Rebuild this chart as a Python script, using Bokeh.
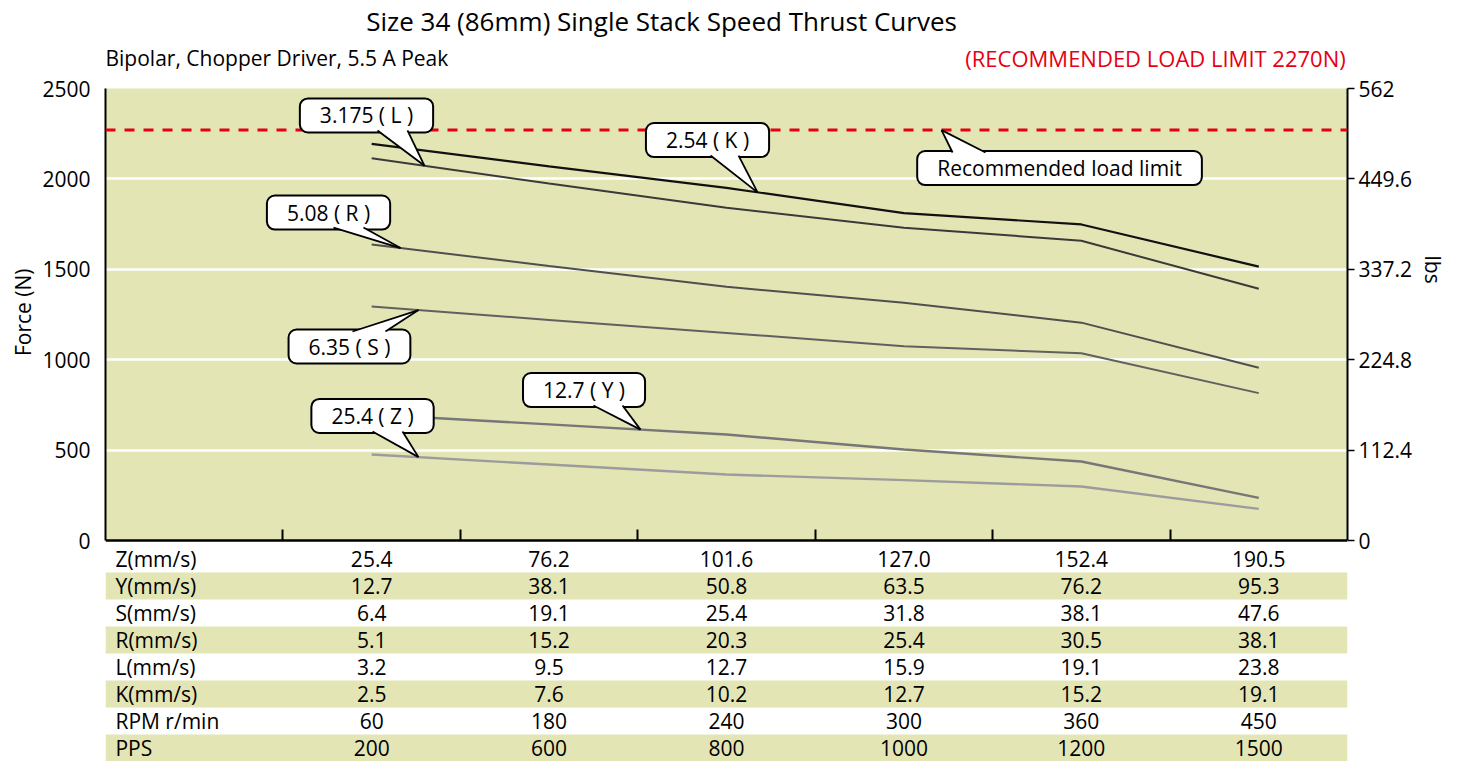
import numpy as np
from bokeh.plotting import figure
from bokeh.models import (Range1d, LinearAxis, FixedTicker, Label, Span, Title,
                          NumeralTickFormatter, ColumnDataSource)
from bokeh.core.properties import value
from bokeh.embed import file_html
from bokeh.resources import INLINE

# ---------------- data ----------------
row_labels = ["Z(mm/s)", "Y(mm/s)", "S(mm/s)", "R(mm/s)", "L(mm/s)", "K(mm/s)", "RPM r/min", "PPS"]
z_speed = ["25.4", "76.2", "101.6", "127.0", "152.4", "190.5"]
y_speed = ["12.7", "38.1", "50.8", "63.5", "76.2", "95.3"]
s_speed = ["6.4", "19.1", "25.4", "31.8", "38.1", "47.6"]
r_speed = ["5.1", "15.2", "20.3", "25.4", "30.5", "38.1"]
l_speed = ["3.2", "9.5", "12.7", "15.9", "19.1", "23.8"]
k_speed = ["2.5", "7.6", "10.2", "12.7", "15.2", "19.1"]
rpm = ["60", "180", "240", "300", "360", "450"]
pps = ["200", "600", "800", "1000", "1200", "1500"]
table_rows = [z_speed, y_speed, s_speed, r_speed, l_speed, k_speed, rpm, pps]

force_K = [2194, 2069, 1950, 1811, 1748, 1515]
force_L = [2114, 1974, 1840, 1730, 1658, 1392]
force_R = [1637, 1518, 1403, 1315, 1205, 955]
force_S = [1294, 1220, 1148, 1074, 1036, 815]
force_Y = [697, 642, 586, 503, 437, 236]
force_Z = [476, 420, 365, 334, 299, 175]

left_ticks = [0, 500, 1000, 1500, 2000, 2500]
grid_ticks = [500, 1000, 1500, 2000]
right_ticks = [0, 112.4, 224.8, 337.2, 449.6, 562]
load_limit = 2270

# ---------------- layout constants ----------------
FONT = "Open Sans"
OLIVE = "#e3e5b5"
FIG_H = 761
FRAME_W = 1242
CHART_TOP = 88      # px of 2500 N
CHART_BOT = 540     # px of 0 N
N_PER_PX = 2500 / (CHART_BOT - CHART_TOP)
y_start = -(FIG_H - CHART_BOT) * N_PER_PX
y_end = 2500 + CHART_TOP * N_PER_PX
LBS = 562 / 2500

ROW_TOP = 545       # px where table begins
ROW_H = (FIG_H - ROW_TOP) / 8
t_start = 8
t_end = -ROW_TOP / ROW_H

n_cols = len(z_speed)
col_x = np.arange(n_cols) + 1.5

p = figure(x_range=Range1d(0, 7), y_range=Range1d(y_start, y_end),
           frame_width=FRAME_W, frame_height=FIG_H,
           min_border_left=105, min_border_right=98, min_border_top=0, min_border_bottom=0,
           output_backend="svg", toolbar_location=None, tools="")
p.outline_line_color = None
p.background_fill_color = "white"
p.border_fill_color = "white"
p.extra_y_ranges = {"lbs": Range1d(y_start * LBS, y_end * LBS),
                    "table": Range1d(t_start, t_end)}

# chart background
bg = p.quad(left=[0], right=[7], bottom=[0], top=[2500], fill_color=OLIVE, line_color=None)
bg.level = "image"

# grid
p.xgrid.visible = False
p.ygrid.ticker = FixedTicker(ticks=grid_ticks)
p.ygrid.grid_line_color = "white"
p.ygrid.grid_line_width = 2.5

# left axis
ya = p.yaxis[0]
ya.ticker = FixedTicker(ticks=left_ticks)
ya.bounds = (0, 2500)
ya.major_label_text_font = FONT
ya.major_label_text_font_size = "21px"
ya.major_label_text_color = "black"
ya.major_label_text_baseline = "top"
ya.major_label_standoff = 15
ya.major_tick_out = 0
ya.major_tick_in = 0
ya.minor_tick_out = 0
ya.minor_tick_in = 0
ya.axis_line_width = 2
ya.axis_line_color = "black"

# right axis (lbs)
ra = LinearAxis(y_range_name="lbs", ticker=FixedTicker(ticks=right_ticks),
                formatter=NumeralTickFormatter(format="0.[0]"), bounds=(0, 562))
ra.major_label_text_font = FONT
ra.major_label_text_font_size = "21px"
ra.major_label_text_color = "black"
ra.major_label_text_baseline = "top"
ra.major_label_standoff = 4
ra.major_tick_out = 7
ra.major_tick_in = 0
ra.major_tick_line_width = 1.5
ra.minor_tick_out = 0
ra.minor_tick_in = 0
ra.axis_line_width = 2
p.add_layout(ra, "right")

# axis titles
p.add_layout(Title(text="Force (N)", align="right", offset=268, standoff=6,
                   text_font=FONT, text_font_size="21px", text_font_style="normal",
                   text_color="black"), "left")
p.add_layout(Title(text="lbs", align="left", offset=255, standoff=6,
                   text_font=FONT, text_font_size="21px", text_font_style="normal",
                   text_color="black"), "right")

# bottom axis placed at 0 N
xa = p.xaxis[0]
xa.ticker = FixedTicker(ticks=list(range(1, 7)))
xa.fixed_location = 0
xa.major_label_overrides = {i: "" for i in range(1, 7)}
xa.major_label_standoff = 0
xa.major_tick_in = 11
xa.major_tick_out = 0
xa.major_tick_line_width = 2
xa.minor_tick_in = 0
xa.minor_tick_out = 0
xa.axis_line_width = 2.5

# load limit
p.add_layout(Span(location=load_limit, dimension="width", line_color="#e60012",
                  line_width=3, line_dash="10 9"))

# curves
series = [(force_Z, "#9c9c9c", 2.4), (force_Y, "#777777", 2.4), (force_S, "#606060", 2.0),
          (force_R, "#4f4f4f", 2.0), (force_L, "#3a3a3a", 2.0), (force_K, "#111111", 2.2)]
for vals, col, w in series:
    p.line(col_x, vals, line_color=col, line_width=w)

# table
for i in range(len(row_labels)):
    if i % 2 == 1:
        p.quad(left=[0], right=[7], top=[i], bottom=[i + 1], fill_color=OLIVE,
               line_color=None, y_range_name="table")
lab_src = ColumnDataSource(dict(x=[0.056] * len(row_labels),
                                y=[i + 0.5 for i in range(len(row_labels))],
                                text=row_labels))
p.text(x="x", y="y", text="text", source=lab_src, y_range_name="table",
       text_font=value(FONT), text_font_size="21px", text_align="left",
       text_baseline="middle", text_color="black")
vx, vy, vt = [], [], []
for i, row in enumerate(table_rows):
    for j, v in enumerate(row):
        vx.append(col_x[j]); vy.append(i + 0.5); vt.append(v)
p.text(x="x", y="y", text="text", source=ColumnDataSource(dict(x=vx, y=vy, text=vt)),
       y_range_name="table", text_font=value(FONT), text_font_size="21px",
       text_align="center", text_baseline="middle", text_color="black")

# titles
p.add_layout(Label(x=3.134, y=2876, text="Size 34 (86mm) Single Stack Speed Thrust Curves",
                   text_font=FONT, text_font_size="26px", text_align="center",
                   text_baseline="middle", text_color="black"))
p.add_layout(Label(x=0, y=2666, text="Bipolar, Chopper Driver, 5.5 A Peak",
                   text_font=FONT, text_font_size="21px", text_align="left",
                   text_baseline="middle", text_color="black"))
p.add_layout(Label(x=6.99, y=2666, text="(RECOMMENDED LOAD LIMIT 2270N)",
                   text_font=FONT, text_font_size="22px", text_align="right",
                   text_baseline="middle", text_color="#e60012"))

# callouts: text, box centre (x, N), tail base x0, x1, base N, tip x, tip series
callouts = [
    ("3.175 ( L )", 1.471, 2351, 1.533, 1.702, 2268, 1.798, force_L),
    ("2.54 ( K )", 3.393, 2215, 3.410, 3.568, 2129, 3.675, force_K),
    ("Recommended load limit", 5.377, 2060, 4.774, 4.960, 2146, 4.712, None),
    ("5.08 ( R )", 1.257, 1814, 1.285, 1.454, 1731, 1.663, force_R),
    ("6.35 ( S )", 1.375, 1073, 1.392, 1.578, 1156, 1.764, force_S),
    ("12.7 ( Y )", 2.697, 832, 2.750, 2.914, 747, 3.015, force_Y),
    ("25.4 ( Z )", 1.505, 689, 1.505, 1.674, 603, 1.764, force_Z),
]
for text, cx, cy, bx0, bx1, by, tx, ser in callouts:
    ty = load_limit if ser is None else float(np.interp(tx, col_x, ser))
    p.add_layout(Label(x=cx, y=cy, text=text, text_font=FONT, text_font_size="21px",
                       text_align="center", text_baseline="middle", text_color="black",
                       background_fill_color="white", border_line_color="black",
                       border_line_width=2, border_radius=8,
                       padding=dict(left=20, right=20, top=3, bottom=3)))
    tail = p.patch([bx0, bx1, tx], [by, by, ty], fill_color="white", line_color=None)
    tail.level = "overlay"
    edges = p.multi_line([[bx0, tx], [bx1, tx]], [[by, ty], [by, ty]],
                         line_color="black", line_width=1.8)
    edges.level = "overlay"

open("out.html", "w").write(file_html(p, INLINE))
